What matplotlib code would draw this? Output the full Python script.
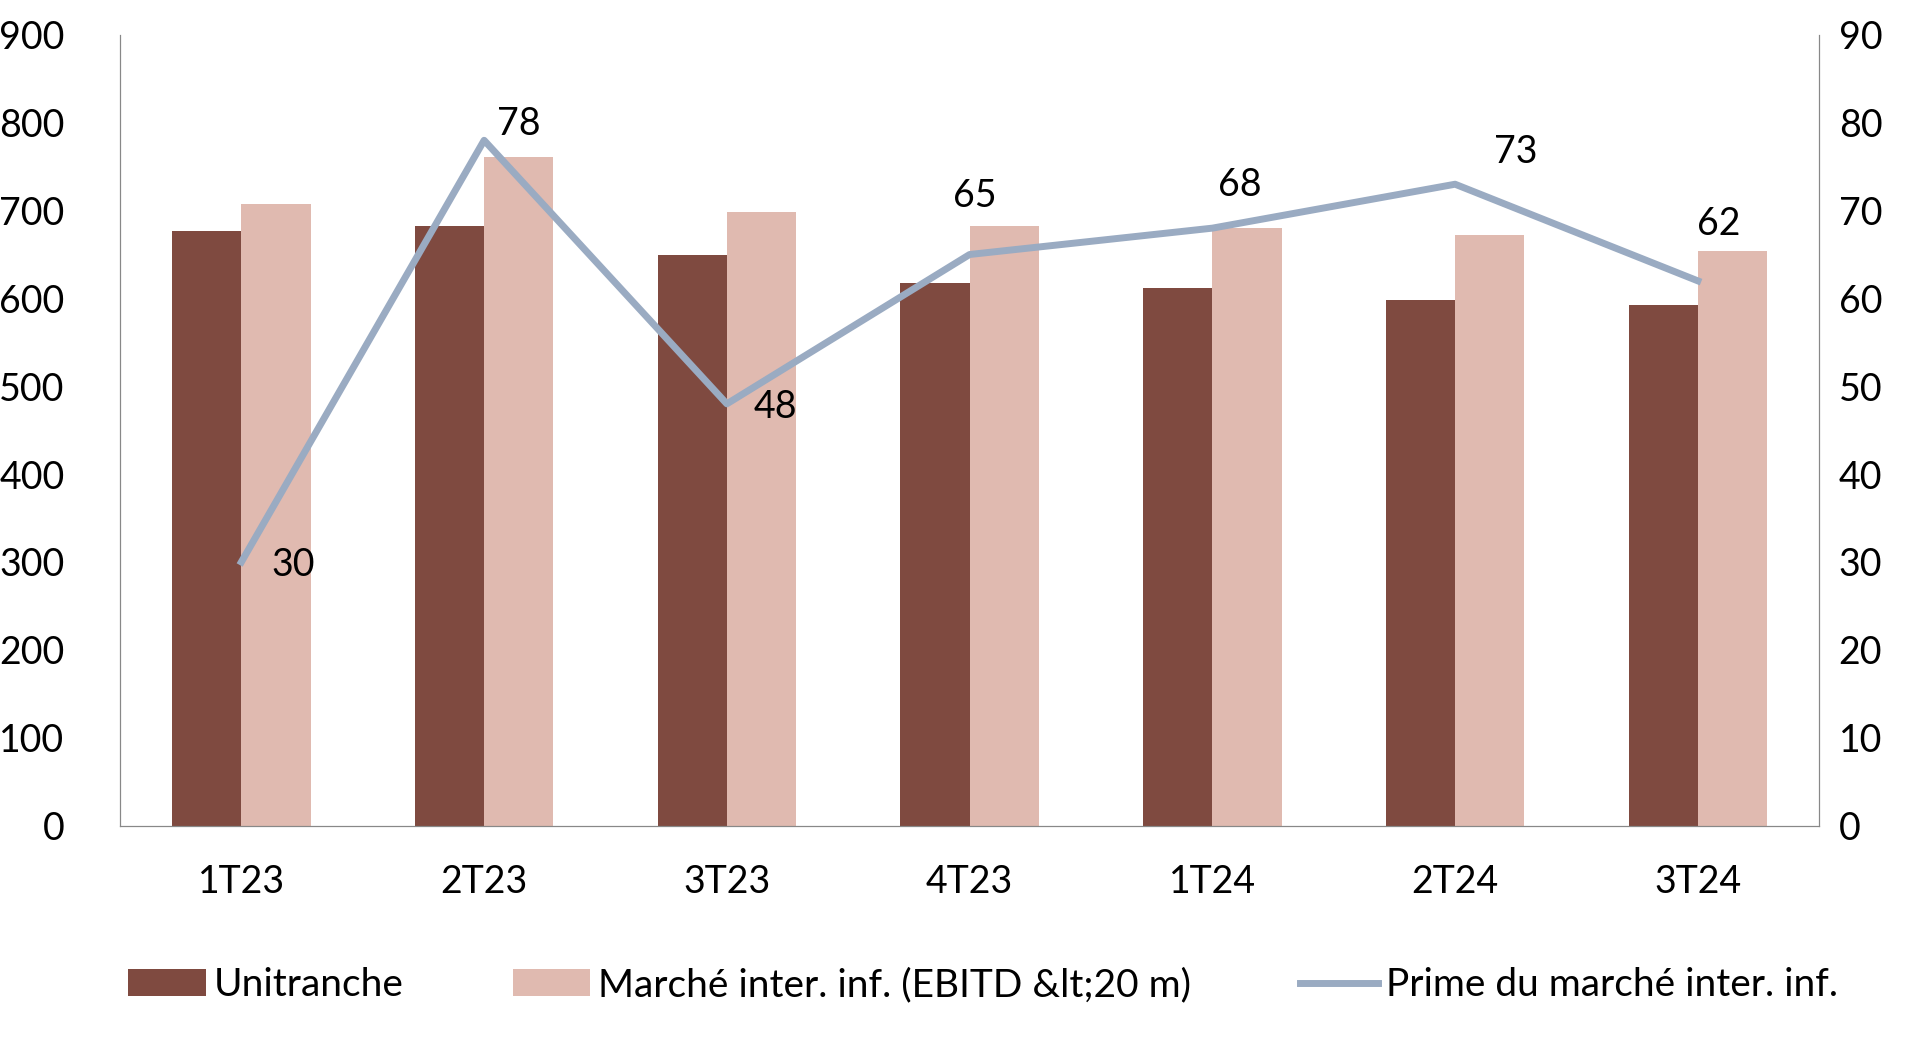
import matplotlib.pyplot as plt
import numpy as np

plt.rcParams['font.family'] = ['Lato', 'DejaVu Sans']

quarters = ['1T23', '2T23', '3T23', '4T23', '1T24', '2T24', '3T24']
unitranche = [677, 683, 649, 617, 612, 598, 592]
marche_inf = [708, 761, 698, 683, 680, 672, 654]
prime = [30, 78, 48, 65, 68, 73, 62]

# décalages des étiquettes (points)
label_offsets = [(37, -2), (25, 12), (35, -2), (4, 42), (20, 31), (44, 23), (15, 41)]

fig = plt.figure(figsize=(19.2, 10.57), dpi=100)
ax = fig.add_axes([0.0625, 0.219, 0.885, 0.748])
ax2 = ax.twinx()

x = np.arange(len(quarters))
w = 0.285
ax.bar(x - w / 2, unitranche, w, color='#7F4A40', label='Unitranche')
ax.bar(x + w / 2, marche_inf, w, color='#E0BAB0', label='Marché inter. inf. (EBITD &lt;20 m)')
ax2.plot(x, prime, color='#9AABC2', lw=5, label='Prime du marché inter. inf.')
for xi, v, off in zip(x, prime, label_offsets):
    ax2.annotate(str(v), (xi, v), xytext=off, textcoords='offset points',
                 ha='center', va='center', fontsize=27)

ax.set_xlim(-0.5, len(quarters) - 0.5)
ax.set_ylim(0, 900)
ax2.set_ylim(0, 90)
ax.set_yticks(range(0, 901, 100))
ax2.set_yticks(range(0, 91, 10))
ax.set_xticks(x)
ax.set_xticklabels(quarters)
for a in (ax, ax2):
    a.tick_params(length=0, labelsize=27)
    a.spines['top'].set_visible(False)
    for s in ('left', 'right', 'bottom'):
        a.spines[s].set_color('#888888')
ax.tick_params(axis='x', pad=28)
ax.tick_params(axis='y', pad=40)
ax2.tick_params(axis='y', pad=14)

h1, l1 = ax.get_legend_handles_labels()
h2, l2 = ax2.get_legend_handles_labels()
fig.legend(h1 + h2, l1 + l2, loc='center', bbox_to_anchor=(0.512, 0.068), ncol=3,
           frameon=False, fontsize=28, handlelength=2.0, columnspacing=2.8, handletextpad=0.2)

fig.savefig('out.png', dpi=100)
